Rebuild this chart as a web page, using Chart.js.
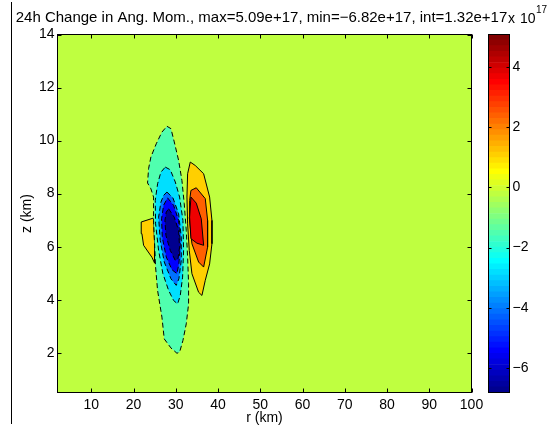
<!DOCTYPE html>
<html>
<head>
<meta charset="utf-8">
<script src="https://cdn.jsdelivr.net/npm/chart.js@4/dist/chart.umd.min.js"></script>
<style>
  html, body { margin: 0; padding: 0; background: #fff; }
  #wrap { position: relative; width: 553px; height: 427px; }
  canvas { position: absolute; left: 0; top: 0; }
</style>
</head>
<body>
<div id="wrap">
  <canvas id="field" width="553" height="427"></canvas>
  <canvas id="cbar" width="553" height="427"></canvas>
</div>
<script>
// ---- field extremes and contour settings ----
const valueMax = 5.09e17;
const valueMin = -6.82e17;
const levelCount = 10;
const cbarScale = 1e17;

// ---- axes ----
const rRange = [2, 100];
const zRange = [0.5, 14];
const rTicks = [10, 20, 30, 40, 50, 60, 70, 80, 90, 100];
const zTicks = [2, 4, 6, 8, 10, 12, 14];
const cbarTicks = [-6, -4, -2, 0, 2, 4];

// ---- contour rings, points are [r (km), z (km)] ----
// level 5 (about -0.20e17), outermost negative contour
const ringLevel5 = [
  [27.9, 10.54], [28.85, 10.45], [29.64, 9.95], [30.67, 9.25], [31.45, 8.50],
  [32.0, 7.62], [32.48, 6.61], [32.8, 5.60], [33.03, 4.60], [33.03, 3.84],
  [32.48, 3.09], [31.69, 2.46], [30.9, 2.02], [30.27, 1.98], [28.85, 2.18],
  [27.27, 2.52], [26.72, 3.34], [25.69, 4.35], [25.22, 5.23], [24.98, 6.11],
  [24.74, 6.99], [24.74, 7.87], [24.11, 8.18], [23.32, 8.40], [23.56, 8.94],
  [24.11, 9.38], [25.38, 9.88], [26.72, 10.32]
];
// level 4 (about -1.53e17)
const ringLevel4 = [
  [27.51, 9.0], [28.69, 8.9], [29.88, 8.44], [30.9, 7.87], [31.69, 6.99],
  [31.85, 5.86], [31.61, 4.85], [31.06, 4.16], [30.43, 3.84], [29.48, 3.97],
  [28.3, 4.35], [26.95, 4.98], [25.93, 5.86], [25.22, 6.86], [25.14, 7.74],
  [25.69, 8.37], [26.48, 8.81]
];
// level 3 (about -2.85e17)
const ringLevel3 = [
  [27.9, 8.06], [29.32, 7.84], [30.67, 7.24], [31.3, 6.36], [31.3, 5.48],
  [30.74, 4.79], [30.11, 4.54], [28.85, 4.79], [27.27, 5.42], [26.32, 6.23],
  [25.93, 7.11], [26.48, 7.68], [27.11, 7.93]
];
// level 2 (about -4.17e17)
const ringLevel2 = [
  [28.06, 7.84], [29.48, 7.56], [30.67, 6.99], [31.06, 6.11], [30.74, 5.35],
  [30.27, 4.98], [29.09, 5.13], [27.74, 5.61], [26.8, 6.36], [26.64, 7.05],
  [27.11, 7.56]
];
// level 1 (about -5.50e17), innermost negative contour
const ringLevel1 = [
  [28.3, 7.43], [29.64, 7.11], [30.67, 6.61], [30.9, 5.98], [30.51, 5.54],
  [29.88, 5.48], [28.69, 5.86], [27.67, 6.42], [27.43, 6.99], [27.74, 7.30]
];
// level 6 (about 1.12e17), outer band
const ringLevel6 = [
  [33.43, 9.19], [34.61, 9.06], [36.59, 8.75], [38.01, 7.87], [38.56, 6.99],
  [38.56, 6.11], [38.01, 5.35], [36.98, 4.73], [36.19, 4.16], [35.4, 4.28],
  [33.82, 4.98], [33.19, 5.86], [32.8, 6.86], [32.64, 7.87], [32.8, 8.75]
];
// level 6 (about 1.12e17), inner small cell
const ringLevel6b = [
  [21.82, 6.93], [24.74, 7.08], [24.98, 6.11], [24.98, 5.38], [24.35, 5.60],
  [22.38, 6.05], [21.98, 6.49]
];
// level 7 (about 2.44e17)
const ringLevel7 = [
  [33.59, 8.12], [34.85, 8.22], [36.98, 7.81], [37.53, 6.99], [37.53, 5.98],
  [36.59, 5.23], [35.4, 5.42], [33.82, 6.11], [33.19, 7.11], [33.27, 7.74]
];
// level 8 (about 3.77e17)
const ringLevel8 = [
  [33.59, 7.87], [34.85, 7.64], [36.03, 7.05], [36.59, 6.05], [35.01, 6.13],
  [33.59, 6.30], [33.27, 7.11]
];

// ---- contour levels and colours ----
const interval = (valueMax - valueMin) / (levelCount - 1);
const levels = Array.from({ length: levelCount }, (_, i) => valueMin + i * interval);

// 64-step jet colour map, k = 1..64
function jet64(k) {
  const b = k <= 8 ? (k + 8) / 16 : k <= 23 ? 1 : k <= 39 ? (40 - k) / 16 : 0;
  const g = k <= 8 ? 0 : k <= 24 ? (k - 8) / 16 : k <= 39 ? 1 : k <= 55 ? (56 - k) / 16 : 0;
  const r = k <= 24 ? 0 : k <= 40 ? (k - 24) / 16 : k <= 55 ? 1 : (72 - k) / 16;
  const c = v => Math.round(Math.max(0, Math.min(1, v)) * 255);
  return `rgb(${c(r)},${c(g)},${c(b)})`;
}
function colourOf(value) {
  let k = Math.floor((value - valueMin) / (valueMax - valueMin) * 64) + 1;
  k = Math.max(1, Math.min(64, k));
  return jet64(k);
}

// Drawing order: first entries end up on top
const rings = [
  { pts: ringLevel1, level: 1 },
  { pts: ringLevel2, level: 2 },
  { pts: ringLevel3, level: 3 },
  { pts: ringLevel4, level: 4 },
  { pts: ringLevel5, level: 5 },
  { pts: ringLevel8, level: 8 },
  { pts: ringLevel7, level: 7 },
  { pts: ringLevel6, level: 6 },
  { pts: ringLevel6b, level: 6 }
];

const fontFamily = "'Liberation Sans', Arial, Helvetica, sans-serif";
Chart.defaults.font.family = fontFamily;
Chart.defaults.color = '#000';

const fmt = v => v.toExponential(2).replace('-', '\u2212');
const titleText = `24h Change in Ang. Mom., max=${fmt(valueMax)}, min=${fmt(valueMin)}, int=${fmt(interval)}`;
const backgroundFill = colourOf(levels[5]);

const fieldDatasets = rings.map(ring => {
  const negative = levels[ring.level] < 0;
  // inside a falling contour the field lies in the band below it
  const fillLevel = negative ? levels[ring.level - 1] : levels[ring.level];
  const pts = ring.pts.concat([ring.pts[0]]).map(p => ({ x: p[0], y: p[1] }));
  return {
    data: pts,
    showLine: true,
    fill: 'shape',
    backgroundColor: colourOf(fillLevel),
    borderColor: '#000',
    borderWidth: 1,
    borderDash: negative ? [5, 3] : [],
    pointRadius: 0,
    tension: 0
  };
});

const fieldFrame = {
  id: 'fieldFrame',
  beforeDraw(chart) {
    const { ctx, chartArea: a } = chart;
    ctx.save();
    ctx.fillStyle = backgroundFill;
    ctx.fillRect(a.left, a.top, a.right - a.left, a.bottom - a.top);
    ctx.restore();
  },
  afterDraw(chart) {
    const { ctx, chartArea: a, scales: { x, y } } = chart;
    const len = 4;
    ctx.save();
    ctx.strokeStyle = '#000';
    ctx.lineWidth = 1;
    ctx.beginPath();
    x.ticks.forEach(t => {
      const px = Math.round(x.getPixelForValue(t.value)) + 0.5;
      ctx.moveTo(px, a.bottom); ctx.lineTo(px, a.bottom - len);
      ctx.moveTo(px, a.top); ctx.lineTo(px, a.top + len);
    });
    y.ticks.forEach(t => {
      const py = Math.round(y.getPixelForValue(t.value)) + 0.5;
      ctx.moveTo(a.left, py); ctx.lineTo(a.left + len, py);
      ctx.moveTo(a.right, py); ctx.lineTo(a.right - len, py);
    });
    ctx.stroke();
    ctx.strokeRect(a.left, a.top, a.right - a.left, a.bottom - a.top);
    // figure edge line on the left
    ctx.beginPath();
    ctx.moveTo(11.5, 2); ctx.lineTo(11.5, 424);
    ctx.stroke();
    // title
    ctx.fillStyle = '#000';
    ctx.font = `15px ${fontFamily}`;
    ctx.textAlign = 'center';
    ctx.textBaseline = 'alphabetic';
    ctx.fillText(titleText, 261.5, 21.5);
    ctx.restore();
  }
};

new Chart(document.getElementById('field'), {
  type: 'scatter',
  data: { datasets: fieldDatasets },
  options: {
    responsive: false,
    animation: false,
    devicePixelRatio: 1,
    layout: { padding: { left: 0, top: 34.5, right: 81.5, bottom: 0 } },
    plugins: { legend: { display: false }, tooltip: { enabled: false }, title: { display: false } },
    scales: {
      x: {
        type: 'linear', min: rRange[0], max: rRange[1],
        grid: { display: false, drawTicks: false },
        border: { display: false },
        ticks: { font: { size: 14 }, color: '#000', padding: 4, maxRotation: 0, autoSkip: false },
        afterBuildTicks: s => { s.ticks = rTicks.map(v => ({ value: v })); },
        afterFit: s => { s.height = 34.5; },
        title: { display: true, text: 'r (km)', font: { size: 14 }, color: '#000', padding: { top: 0, bottom: 0 } }
      },
      y: {
        type: 'linear', min: zRange[0], max: zRange[1],
        grid: { display: false, drawTicks: false },
        border: { display: false },
        ticks: { font: { size: 14 }, color: '#000', padding: 3, autoSkip: false },
        afterBuildTicks: s => { s.ticks = zTicks.map(v => ({ value: v })); },
        afterFit: s => { s.width = 57.5; },
        title: { display: true, text: 'z (km)', font: { size: 14 }, color: '#000', padding: { top: 19, bottom: 0 } }
      }
    }
  },
  plugins: [fieldFrame]
});

// ---- colour bar ----
const cbMin = valueMin / cbarScale;
const cbMax = valueMax / cbarScale;
const cbStep = (cbMax - cbMin) / 64;
const cbarDatasets = Array.from({ length: 64 }, (_, i) => ({
  data: [[cbMin + i * cbStep, cbMin + (i + 1) * cbStep]],
  backgroundColor: jet64(i + 1),
  borderWidth: 0,
  barPercentage: 1,
  categoryPercentage: 1
}));

const cbarFrame = {
  id: 'cbarFrame',
  afterDraw(chart) {
    const { ctx, chartArea: a, scales: { y } } = chart;
    const len = 3;
    ctx.save();
    ctx.strokeStyle = '#000';
    ctx.lineWidth = 1;
    ctx.beginPath();
    y.ticks.forEach(t => {
      const py = Math.round(y.getPixelForValue(t.value)) + 0.5;
      ctx.moveTo(a.left, py); ctx.lineTo(a.left + len, py);
      ctx.moveTo(a.right, py); ctx.lineTo(a.right - len, py);
    });
    ctx.stroke();
    ctx.strokeRect(a.left, a.top, a.right - a.left, a.bottom - a.top);
    ctx.fillStyle = '#000';
    ctx.textAlign = 'left';
    ctx.textBaseline = 'alphabetic';
    ctx.font = `14px ${fontFamily}`;
    ctx.fillText('x', 508, 22.5);
    ctx.fillText('10', 520, 22.5);
    ctx.font = `10px ${fontFamily}`;
    ctx.fillText('17', 536, 13);
    ctx.restore();
  }
};

new Chart(document.getElementById('cbar'), {
  type: 'bar',
  data: { labels: [''], datasets: cbarDatasets },
  options: {
    responsive: false,
    animation: false,
    devicePixelRatio: 1,
    layout: { padding: { left: 488.5, top: 34.5, right: 0, bottom: 34.5 } },
    plugins: { legend: { display: false }, tooltip: { enabled: false } },
    scales: {
      x: { display: false, stacked: true },
      y: {
        position: 'right', min: cbMin, max: cbMax,
        grid: { display: false, drawTicks: false },
        border: { display: false },
        ticks: {
          font: { size: 14 }, color: '#000', padding: 3, autoSkip: false,
          callback: v => (v < 0 ? '\u2212' + Math.abs(v) : String(v))
        },
        afterBuildTicks: s => { s.ticks = cbarTicks.map(v => ({ value: v })); },
        afterFit: s => { s.width = 43.5; }
      }
    }
  },
  plugins: [cbarFrame]
});
</script>
</body>
</html>
